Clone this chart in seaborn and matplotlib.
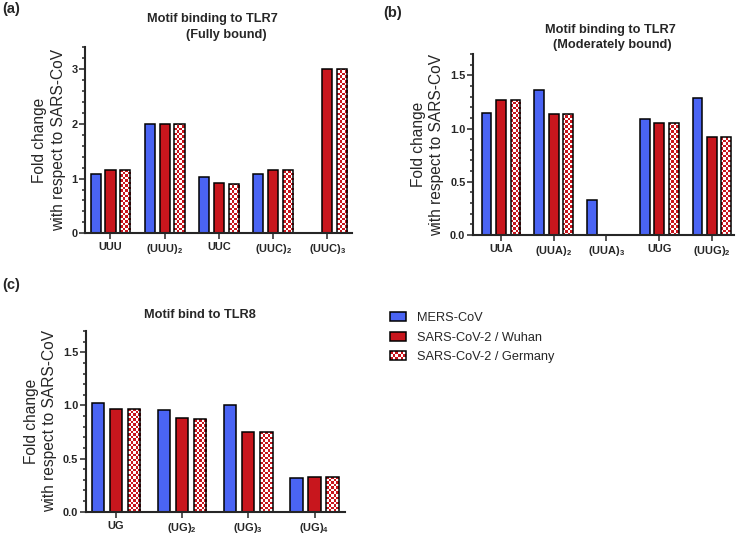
import numpy as np
import pandas as pd
import seaborn as sns
import matplotlib.pyplot as plt
from matplotlib.patches import Rectangle, Patch
from matplotlib.legend_handler import HandlerBase
from matplotlib.ticker import MultipleLocator
from matplotlib.colors import to_rgb

# ---- dati ----
ceppi = ['MERS-CoV', 'SARS-CoV-2 / Wuhan', 'SARS-CoV-2 / Germany']

motivi_a = ['UUU', r'(UUU)$_\mathbf{2}$', 'UUC', r'(UUC)$_\mathbf{2}$', r'(UUC)$_\mathbf{3}$']
mers_a = [1.08, 2.0, 1.03, 1.08, 0.0]
wuhan_a = [1.16, 2.0, 0.92, 1.15, 3.0]
germania_a = [1.16, 2.0, 0.91, 1.15, 3.0]

motivi_b = ['UUA', r'(UUA)$_\mathbf{2}$', r'(UUA)$_\mathbf{3}$', 'UUG', r'(UUG)$_\mathbf{2}$']
mers_b = [1.15, 1.36, 0.33, 1.09, 1.29]
wuhan_b = [1.27, 1.14, 0.0, 1.05, 0.92]
germania_b = [1.27, 1.14, 0.0, 1.05, 0.92]

motivi_c = ['UG', r'(UG)$_\mathbf{2}$', r'(UG)$_\mathbf{3}$', r'(UG)$_\mathbf{4}$']
mers_c = [1.02, 0.96, 1.00, 0.32]
wuhan_c = [0.97, 0.88, 0.75, 0.33]
germania_c = [0.97, 0.87, 0.75, 0.33]

BLU = '#4A64F4'
ROSSO = '#C8161D'
colori = {ceppi[0]: BLU, ceppi[1]: ROSSO, ceppi[2]: ROSSO}

sns.set_style('ticks')
plt.rcParams['font.family'] = ['Liberation Sans', 'DejaVu Sans']
plt.rcParams['mathtext.fontset'] = 'custom'
plt.rcParams['mathtext.rm'] = 'Liberation Sans'
plt.rcParams['mathtext.bf'] = 'Liberation Sans:bold'


def costruisci_df(motivi, mers, wuhan, germania):
    righe = []
    for serie, valori in zip(ceppi, [mers, wuhan, germania]):
        for m, v in zip(motivi, valori):
            righe.append({'motivo': m, 'ceppo': serie, 'valore': v})
    return pd.DataFrame(righe)


def scacchiera(ax, barre, lato_px=2.5):
    bianco = np.array([1.0, 1.0, 1.0])
    rosso = np.array(to_rgb(ROSSO))
    for barra in barre:
        x0, y0 = barra.get_x(), barra.get_y()
        w, h = barra.get_width(), barra.get_height()
        barra.set_facecolor('none')
        if h <= 0:
            continue
        (px0, py0), (px1, py1) = ax.transData.transform([(x0, y0), (x0 + w, y0 + h)])
        nx = max(1, int(round((px1 - px0) / lato_px)))
        ny = max(1, int(round((py1 - py0) / lato_px)))
        griglia = np.add.outer(np.arange(ny), np.arange(nx)) % 2
        img = np.where(griglia[..., None] == 0, rosso, bianco)
        im = ax.imshow(img, extent=(x0, x0 + w, y0, y0 + h), aspect='auto',
                       interpolation='nearest', zorder=0.9)
        im.set_clip_path(barra)


def pannello(rect, motivi, mers, wuhan, germania, ymax, passo, passo_minore, xlim):
    ax = fig.add_axes(rect)
    df = costruisci_df(motivi, mers, wuhan, germania)
    sns.barplot(data=df, x='motivo', y='valore', hue='ceppo', hue_order=ceppi,
                order=motivi, palette=colori, saturation=1, width=0.82, gap=0.32,
                edgecolor='black', linewidth=1.1, errorbar=None, legend=False, ax=ax)
    ax.set_xlim(*xlim)
    ax.set_ylim(0, ymax)
    scacchiera(ax, ax.containers[2])
    ax.set_xlim(*xlim)
    ax.set_ylim(0, ymax)
    ax.yaxis.set_major_locator(MultipleLocator(passo))
    ax.yaxis.set_minor_locator(MultipleLocator(passo_minore))
    sns.despine(ax=ax)
    for s in ['left', 'bottom']:
        ax.spines[s].set_linewidth(1.5)
    ax.tick_params(axis='y', which='major', length=4.5, width=1.1, pad=1, labelsize=7.9)
    ax.tick_params(axis='y', which='minor', length=2.5, width=1.1)
    ax.tick_params(axis='x', length=4.5, width=1.1, pad=2, labelsize=7.9)
    for t in ax.get_xticklabels() + ax.get_yticklabels():
        t.set_fontweight('bold')
    ax.set_xlabel('')
    ax.set_ylabel('Fold change\nwith respect to SARS-CoV', fontsize=11.2,
                  linespacing=1.3, labelpad=4)
    return ax


fig = plt.figure(figsize=(7.38, 5.34), dpi=100)

ax_a = pannello([0.1152, 0.5631, 0.3618, 0.3483], motivi_a, mers_a, wuhan_a, germania_a,
                3.4, 1, 0.2, (-0.47, 4.455))
ax_b = pannello([0.6410, 0.5599, 0.3537, 0.3390], motivi_b, mers_b, wuhan_b, germania_b,
                1.7, 0.5, 0.1, (-0.53, 4.42))
ax_c = pannello([0.1165, 0.0418, 0.3510, 0.3383], motivi_c, mers_c, wuhan_c, germania_c,
                1.7, 0.5, 0.1, (-0.45, 3.46))

# titoli e lettere dei pannelli
W, H = 738, 534
def testo(x, y, s, **kw):
    fig.text(x / W, 1 - y / H, s, ha='center', va='center', **kw)

testo(212.5, 19.3, 'Motif binding to TLR7', fontsize=9.2, fontweight='bold')
testo(226, 35, '(Fully bound)', fontsize=9.2, fontweight='bold')
testo(610.8, 30, 'Motif binding to TLR7', fontsize=9.2, fontweight='bold')
testo(612.5, 45, '(Moderately bound)', fontsize=9.2, fontweight='bold')
testo(200.3, 315, 'Motif bind to TLR8', fontsize=9.2, fontweight='bold')
testo(11, 8.5, '(a)', fontsize=10.5, fontweight='bold')
testo(392.5, 13.3, '(b)', fontsize=10.5, fontweight='bold')
testo(11, 285, '(c)', fontsize=10.5, fontweight='bold')


class ScacchieraHandler(HandlerBase):
    def create_artists(self, legend, orig_handle, xdescent, ydescent, width, height, fontsize, trans):
        artisti = [Rectangle((-xdescent, -ydescent), width, height, facecolor='white',
                             edgecolor='none', transform=trans)]
        nx, ny = 6, 3
        dx, dy = width / nx, height / ny
        for i in range(nx):
            for j in range(ny):
                if (i + j) % 2 == 0:
                    artisti.append(Rectangle((-xdescent + i * dx, -ydescent + j * dy), dx, dy,
                                             facecolor=ROSSO, edgecolor='none', transform=trans))
        artisti.append(Rectangle((-xdescent, -ydescent), width, height, facecolor='none',
                                 edgecolor='black', lw=1.1, transform=trans))
        return artisti


maniglie = [Patch(facecolor=BLU, edgecolor='black', lw=1.1),
            Patch(facecolor=ROSSO, edgecolor='black', lw=1.1),
            Patch(facecolor=ROSSO, edgecolor='black', lw=1.1)]
fig.legend(handles=maniglie, labels=ceppi, handler_map={maniglie[2]: ScacchieraHandler()},
           loc='upper left', bbox_to_anchor=(0.5285, 0.4165), frameon=False, fontsize=9.2,
           handlelength=1.25, handleheight=0.7, handletextpad=0.86, labelspacing=0.62,
           borderpad=0, borderaxespad=0)

fig.savefig('out.png', dpi=100)
